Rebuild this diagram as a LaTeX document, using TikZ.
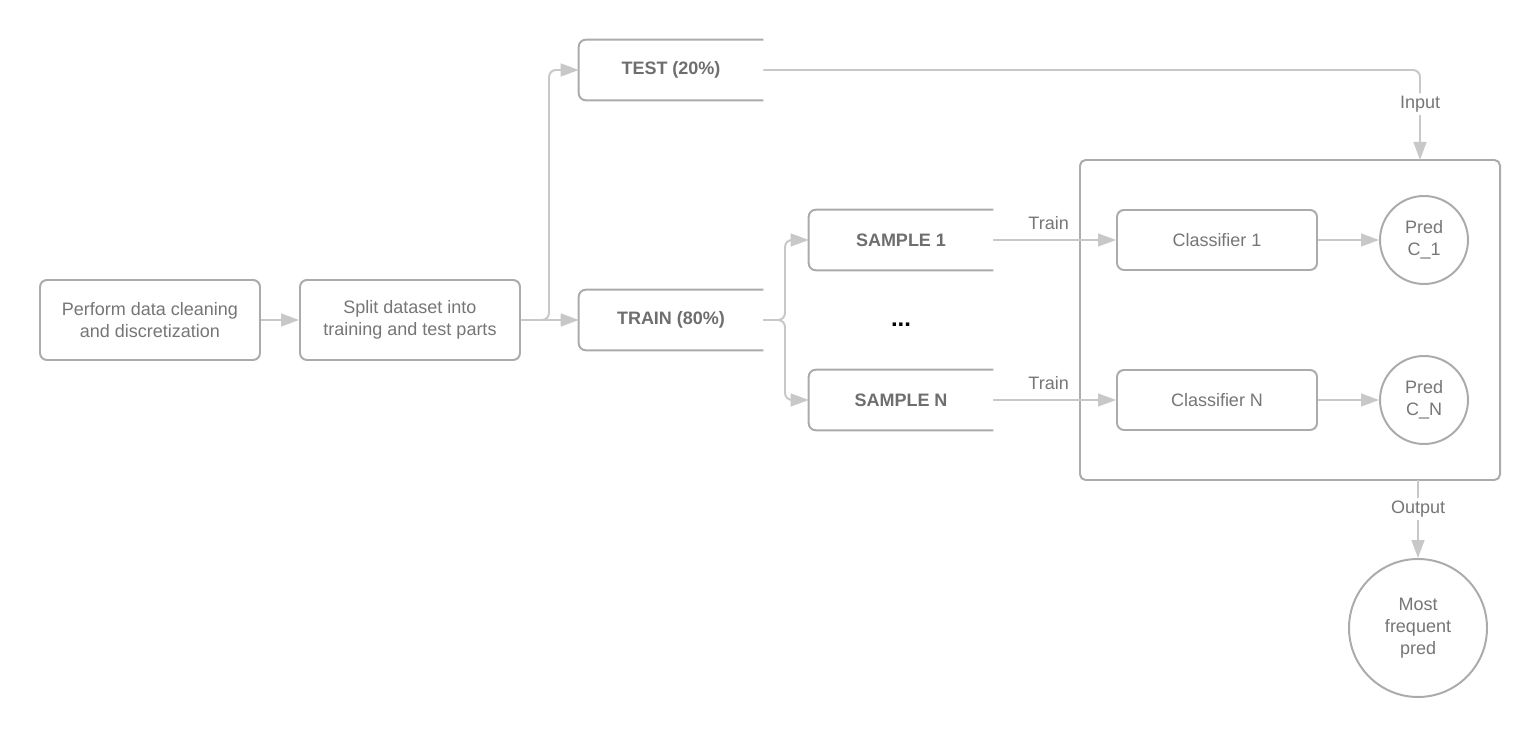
\documentclass[tikz,border=0pt]{standalone}
\usepackage{fontspec}
\setmainfont{Liberation Sans}
\usetikzlibrary{arrows.meta, positioning}

\definecolor{edgegray}{HTML}{ABABAB}
\definecolor{arrowgray}{HTML}{C8C8C8}
\definecolor{textgray}{HTML}{767676}
\definecolor{boldgray}{HTML}{6E6E6E}

\newcommand{\labelfont}{\fontsize{12.8}{15.5}\selectfont}

\tikzset{
    stepbox/.style={draw=edgegray, line width=1.4pt, rounded corners=5pt, minimum width=5.5cm, minimum height=2cm, align=center, text=textgray},
    openbox/.style={minimum width=4.6cm, minimum height=1.5cm, inner sep=0pt, text=boldgray, font=\labelfont\bfseries},
    openline/.style={draw=edgegray, line width=1.4pt, rounded corners=5pt},
    classbox/.style={draw=edgegray, line width=1.4pt, rounded corners=5pt, minimum width=5cm, minimum height=1.5cm, text=textgray},
    predcircle/.style={circle, draw=edgegray, line width=1.4pt, minimum size=2.2cm, inner sep=0pt, align=center, text=textgray},
    flow/.style={draw=arrowgray, line width=1.4pt, -{Triangle[length=0.45cm, width=0.32cm]}},
    flowlabel/.style={text=textgray, fill=white, inner sep=2pt}
}

\begin{document}
\begin{tikzpicture}[font=\labelfont]
\useasboundingbox (0,0) rectangle (38.5,18.45);
\fill[white] (0,0) rectangle (38.5,18.45);

% preparation
\node[stepbox] (clean) at (3.75,10.45) {Perform data cleaning\\and discretization};
\node[stepbox] (split) at (10.25,10.45) {Split dataset into\\training and test parts};

% test / train parts
\node[openbox] (test) at (16.775,16.7) {TEST (20\%)};
\node[openbox] (train) at (16.775,10.45) {TRAIN (80\%)};
\draw[openline] (test.north east) -- (test.north west) -- (test.south west) -- (test.south east);
\draw[openline] (train.north east) -- (train.north west) -- (train.south west) -- (train.south east);

% samples
\node[openbox] (sample1) at (22.525,12.45) {SAMPLE 1};
\node[openbox] (sampleN) at (22.525,8.45) {SAMPLE N};
\draw[openline] (sample1.north east) -- (sample1.north west) -- (sample1.south west) -- (sample1.south east);
\draw[openline] (sampleN.north east) -- (sampleN.north west) -- (sampleN.south west) -- (sampleN.south east);
\node[font=\fontsize{17}{19}\selectfont\bfseries] (dots) at (22.525,10.33) {...};

% ensemble
\draw[draw=edgegray, line width=1.4pt, rounded corners=4pt] (27,6.45) rectangle (37.5,14.45);
\node[classbox] (class1) at (30.425,12.45) {Classifier 1};
\node[classbox] (classN) at (30.425,8.45) {Classifier N};
\node[predcircle] (pred1) at (35.6,12.45) {Pred\\C\_1};
\node[predcircle] (predN) at (35.6,8.45) {Pred\\C\_N};
\node[predcircle, minimum size=3.45cm] (vote) at (35.45,2.75) {Most\\frequent\\pred};

\coordinate (fork1) at (13.725,10.45);
\coordinate (fork2) at (19.625,10.45);
\coordinate (inpt) at (35.5,14.45);
\coordinate (outp) at (35.45,6.45);

% connectors
\draw[flow] (clean) -- (split);
\draw[flow] (split) -- (train);
\draw[flow, rounded corners=5pt] (split.east) -- (fork1) |- (test.west);
\draw[flow, rounded corners=5pt] (test.east) -| (inpt) node[flowlabel, pos=0.69] {Input};
\draw[flow, rounded corners=5pt] (train.east) -- (fork2) |- (sample1.west);
\draw[flow, rounded corners=5pt] (train.east) -- (fork2) |- (sampleN.west);
\draw[flow] (sample1.east) -- (class1.west) node[midway, above=3pt, text=textgray, xshift=-0.15cm] {Train};
\draw[flow] (sampleN.east) -- (classN.west) node[midway, above=3pt, text=textgray, xshift=-0.15cm] {Train};
\draw[flow] (class1) -- (pred1);
\draw[flow] (classN) -- (predN);
\draw[flow] (outp) -- (vote) node[flowlabel, pos=0.37] {Output};

\end{tikzpicture}
\end{document}
